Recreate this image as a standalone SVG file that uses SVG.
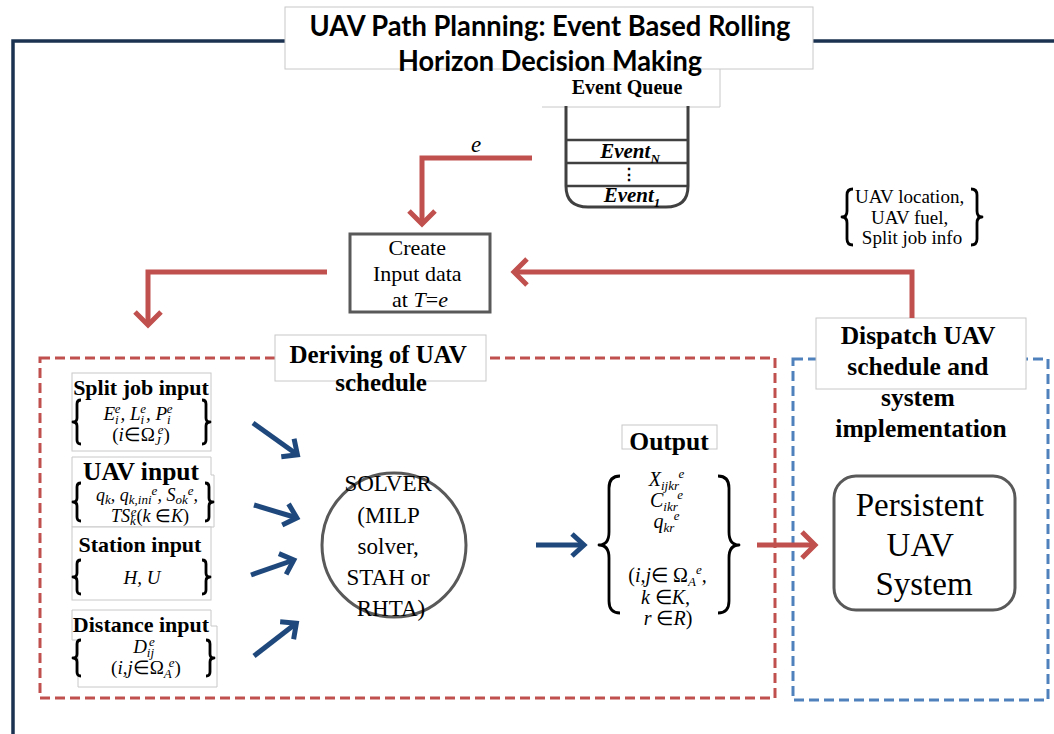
<svg xmlns="http://www.w3.org/2000/svg" width="1054" height="734" viewBox="0 0 1054 734">
  <style>
    .serif { font-family: "Liberation Serif", "Times New Roman", serif; fill: #000; }
    .b { font-weight: bold; }
    .i { font-style: italic; }
    .n { font-style: normal; }
    .lbl { fill: #fff; stroke: #c8c8c8; stroke-width: 1; }
    .red { stroke: #c0504d; stroke-width: 5; fill: none; }
    .blue { stroke: #1f497d; stroke-width: 5; fill: none; }
    .brace { fill: none; stroke: #000; stroke-width: 2.8; stroke-linejoin: round; }
    .grey { fill: #fff; stroke: #595959; stroke-width: 3; }
    .s { font-size: 13px; }
  </style>
  <defs>
    <marker id="chev-red" markerUnits="userSpaceOnUse" viewBox="-20 -20 40 40" markerWidth="40" markerHeight="40" refX="-3" refY="0" orient="auto" overflow="visible">
      <path d="M-13,-13 L0,0 L-13,13" fill="none" stroke="#c0504d" stroke-width="5"/>
    </marker>
    <marker id="chev-blue" markerUnits="userSpaceOnUse" viewBox="-20 -20 40 40" markerWidth="40" markerHeight="40" refX="-3" refY="0" orient="auto" overflow="visible">
      <path d="M-12,-11 L0,0 L-12,11" fill="none" stroke="#1f497d" stroke-width="5"/>
    </marker>
  </defs>

  <rect width="1054" height="734" fill="#fff"/>

  <!-- outer frame -->
  <rect x="13" y="41" width="1100" height="800" fill="none" stroke="#1b3350" stroke-width="3.5"/>

  <!-- event queue -->
  <g id="event-queue">
    <rect x="544" y="55" width="176" height="52" fill="#fff"/>
    <path d="M542,107 H720 V55" fill="none" stroke="#c8c8c8" stroke-width="1"/>
    <path d="M566,106 V186 Q566,207 588,207 H666 Q688,207 688,186 V106" fill="none" stroke="#404040" stroke-width="3"/>
    <path d="M566,140 H688 M566,163 H688 M566,186 H688" stroke="#404040" stroke-width="2.5"/>
    <text class="serif b" x="627" y="94" font-size="20" text-anchor="middle">Event Queue</text>
    <text class="serif b i" x="630" y="158" font-size="21" text-anchor="middle">Event<tspan class="s" dy="5">N</tspan></text>
    <text class="serif b" x="629" y="180" font-size="16" text-anchor="middle">⋮</text>
    <text class="serif b i" x="632" y="202" font-size="21" text-anchor="middle">Event<tspan class="s" dy="5">1</tspan></text>
  </g>

  <!-- title -->
  <g id="title">
    <rect class="lbl" x="285" y="7" width="528" height="62"/>
    <text x="550" y="36" font-family="Lato, 'Open Sans', sans-serif" font-weight="700" font-size="29" text-anchor="middle" textLength="481" lengthAdjust="spacingAndGlyphs">UAV Path Planning: Event Based Rolling</text>
    <text x="550" y="71" font-family="Lato, 'Open Sans', sans-serif" font-weight="700" font-size="29" text-anchor="middle" textLength="304" lengthAdjust="spacingAndGlyphs">Horizon Decision Making</text>
  </g>

  <!-- state feedback note -->
  <g id="feedback-note">
    <path class="brace" d="M853,189 Q847,189 847,195 V211 Q847,217 842,217 Q847,217 847,223 V239 Q847,245 853,245"/>
    <path class="brace" d="M971,189 Q977,189 977,195 V211 Q977,217 982,217 Q977,217 977,223 V239 Q977,245 971,245"/>
    <text class="serif" font-size="19" text-anchor="middle">
      <tspan x="912" y="203">UAV location,</tspan>
      <tspan x="912" y="224">UAV fuel,</tspan>
      <tspan x="912" y="244">Split job info</tspan>
    </text>
  </g>

  <!-- create input data -->
  <g id="create-input">
    <rect x="350" y="234" width="140" height="78" fill="#fff" stroke="#595959" stroke-width="3"/>
    <text class="serif" font-size="22" text-anchor="middle">
      <tspan x="420" y="255">Create</tspan>
      <tspan x="420" y="281">Input data</tspan>
      <tspan x="420" y="307">at <tspan class="i">T</tspan>=<tspan class="i">e</tspan></tspan>
    </text>
  </g>

  <!-- deriving of UAV schedule -->
  <g id="deriving">
    <rect x="40" y="358" width="735" height="340" fill="none" stroke="#c0504d" stroke-width="3" stroke-dasharray="10 5"/>
    <rect class="lbl" x="275" y="335" width="211" height="46"/>
    <text class="serif b" font-size="25" text-anchor="middle">
      <tspan x="381" y="363">Deriving of UAV</tspan>
      <tspan x="381" y="391">schedule</tspan>
    </text>
  </g>

  <!-- dispatch -->
  <g id="dispatch">
    <rect x="793" y="359" width="255" height="341" fill="none" stroke="#4f81bd" stroke-width="3" stroke-dasharray="10 5"/>
    <rect class="lbl" x="816" y="318" width="210" height="71"/>
    <text class="serif b" font-size="25.5" text-anchor="middle">
      <tspan x="921" y="344">Dispatch UAV</tspan>
      <tspan x="921" y="375">schedule and</tspan>
      <tspan x="921" y="406">system</tspan>
      <tspan x="921" y="437">implementation</tspan>
    </text>
  </g>

  <g id="persistent-uav">
    <rect class="grey" x="834" y="476" width="181" height="134" rx="22"/>
    <text class="serif" font-size="33" text-anchor="middle">
      <tspan x="924" y="516">Persistent</tspan>
      <tspan x="924" y="556">UAV</tspan>
      <tspan x="924" y="595">System</tspan>
    </text>
  </g>

  <!-- inputs -->
  <g id="split-job-input">
    <rect class="lbl" x="72" y="373" width="139" height="78"/>
    <text class="serif b" x="141" y="395" font-size="22" text-anchor="middle">Split job input</text>
    <path class="brace" d="M81,400 Q77,400 77,404 V418 Q77,422 73,422 Q77,422 77,426 V440 Q77,444 81,444"/>
    <path class="brace" d="M202,400 Q206,400 206,404 V418 Q206,422 210,422 Q206,422 206,426 V440 Q206,444 202,444"/>
    <text class="serif i" x="138" y="420" font-size="19" text-anchor="middle">E<tspan class="s" dy="4">i</tspan><tspan class="s" dx="-4" dy="-11">e</tspan><tspan dy="7">, L</tspan><tspan class="s" dy="4">i</tspan><tspan class="s" dx="-4" dy="-11">e</tspan><tspan dy="7">, P</tspan><tspan class="s" dy="4">i</tspan><tspan class="s" dx="-4" dy="-11">e</tspan></text>
    <text class="serif i" x="141" y="441" font-size="19" text-anchor="middle"><tspan class="n">(</tspan>i<tspan class="n">∈Ω</tspan><tspan class="s" dy="4">J</tspan><tspan class="s" dx="-3" dy="-11">e</tspan><tspan class="n" dy="7">)</tspan></text>
  </g>

  <g id="uav-input">
    <path class="lbl" d="M72,457 H211 V475 H214 V527 H72 Z"/>
    <text class="serif b" x="141" y="480" font-size="25.5" text-anchor="middle">UAV input</text>
    <path class="brace" d="M81,483 Q77,483 77,487 V498 Q77,502 73,502 Q77,502 77,506 V517 Q77,521 81,521"/>
    <path class="brace" d="M205,483 Q209,483 209,487 V498 Q209,502 213,502 Q209,502 209,506 V517 Q209,521 205,521"/>
    <text class="serif i" x="147" y="501" font-size="18" text-anchor="middle">q<tspan class="s" dy="3">k</tspan><tspan dy="-3">, q</tspan><tspan class="s" dy="3">k,ini</tspan><tspan class="s" dy="-9">e</tspan><tspan dy="6">, S</tspan><tspan class="s" dy="3">ok</tspan><tspan class="s" dy="-9">e</tspan><tspan dy="6">,</tspan></text>
    <text class="serif i" x="150" y="522" font-size="18" text-anchor="middle">TS<tspan class="s" dy="3">k</tspan><tspan class="s" dx="-5" dy="-9">e</tspan><tspan class="n" dy="6">(</tspan>k <tspan class="n">∈</tspan>K<tspan class="n">)</tspan></text>
  </g>

  <g id="station-input">
    <rect class="lbl" x="72" y="527" width="139" height="73"/>
    <text class="serif b" x="140" y="552" font-size="22" text-anchor="middle">Station input</text>
    <path class="brace" d="M81,560 Q77,560 77,564 V573 Q77,577 73,577 Q77,577 77,581 V590 Q77,594 81,594"/>
    <path class="brace" d="M202,560 Q206,560 206,564 V573 Q206,577 210,577 Q206,577 206,581 V590 Q206,594 202,594"/>
    <text class="serif i" x="142" y="584" font-size="19" text-anchor="middle">H, U</text>
  </g>

  <g id="distance-input">
    <path class="lbl" d="M72,610 H211 V626 H217 V687 H78 V640 H72 Z"/>
    <text class="serif b" x="141" y="632" font-size="22" text-anchor="middle">Distance input</text>
    <path class="brace" d="M81,640 Q77,640 77,644 V654 Q77,658 73,658 Q77,658 77,662 V672 Q77,676 81,676"/>
    <path class="brace" d="M206,640 Q210,640 210,644 V654 Q210,658 214,658 Q210,658 210,662 V672 Q210,676 206,676"/>
    <text class="serif i" x="144" y="653" font-size="19" text-anchor="middle">D<tspan class="s" dy="4">ij</tspan><tspan class="s" dx="-5" dy="-11">e</tspan></text>
    <text class="serif i" x="146" y="674" font-size="19" text-anchor="middle"><tspan class="n">(</tspan>i,j<tspan class="n">∈Ω</tspan><tspan class="s" dy="4">A</tspan><tspan class="s" dx="-3" dy="-11">e</tspan><tspan class="n" dy="7">)</tspan></text>
  </g>

  <!-- solver -->
  <g id="solver">
    <circle class="grey" cx="394" cy="545" r="72"/>
    <text class="serif" font-size="23" text-anchor="middle">
      <tspan x="391" y="491">SOLVER</tspan>
      <tspan x="391" y="523">(MILP</tspan>
      <tspan x="391" y="554">solver,</tspan>
      <tspan x="391" y="585">STAH or</tspan>
      <tspan x="391" y="616">RHTA)</tspan>
    </text>
  </g>

  <!-- output -->
  <g id="output">
    <rect class="lbl" x="622" y="425" width="95" height="24"/>
    <text class="serif b" x="669" y="450" font-size="25.5" text-anchor="middle">Output</text>
    <path class="brace" stroke-width="3.2" d="M620,476 Q609,476 609,488 V532 Q609,545 599,545 Q609,545 609,558 V601 Q609,613 620,613"/>
    <path class="brace" stroke-width="3.2" d="M718,476 Q729,476 729,488 V532 Q729,545 739,545 Q729,545 729,558 V601 Q729,613 718,613"/>
    <text class="serif i" font-size="20" text-anchor="middle">
      <tspan x="669" y="486">X<tspan class="s" dy="4">ijkr</tspan><tspan class="s" dy="-12">e</tspan></tspan>
      <tspan x="669" y="507">C<tspan class="s" dy="4">ikr</tspan><tspan class="s" dy="-12">e</tspan></tspan>
      <tspan x="669" y="528">q<tspan class="s" dy="4">kr</tspan><tspan class="s" dy="-12">e</tspan></tspan>
      <tspan x="670" y="582"><tspan class="n">(</tspan>i,j<tspan class="n">∈ Ω</tspan><tspan class="s" dy="4">A</tspan><tspan class="s" dy="-12">e</tspan><tspan dy="8">,</tspan></tspan>
      <tspan x="668" y="604">k <tspan class="n">∈</tspan>K,</tspan>
      <tspan x="668" y="625">r <tspan class="n">∈</tspan>R<tspan class="n">)</tspan></tspan>
    </text>
  </g>

  <!-- connectors -->
  <g id="connectors">
    <text class="serif i" x="476" y="152" font-size="23" text-anchor="middle">e</text>
    <path class="red" d="M532,158 H422 V221" marker-end="url(#chev-red)"/>
    <path class="red" d="M327,272 H148 V322" marker-end="url(#chev-red)"/>
    <path class="red" d="M912,318 V272 H517" marker-end="url(#chev-red)"/>
    <path class="red" d="M757,545 H812" marker-end="url(#chev-red)"/>
    <path class="blue" d="M253,423 L295,453" marker-end="url(#chev-blue)"/>
    <path class="blue" d="M254,505 L294,517" marker-end="url(#chev-blue)"/>
    <path class="blue" d="M251,575 L291,561" marker-end="url(#chev-blue)"/>
    <path class="blue" d="M254,656 L294,625" marker-end="url(#chev-blue)"/>
    <path class="blue" d="M536,545 H581" marker-end="url(#chev-blue)"/>
  </g>
</svg>
